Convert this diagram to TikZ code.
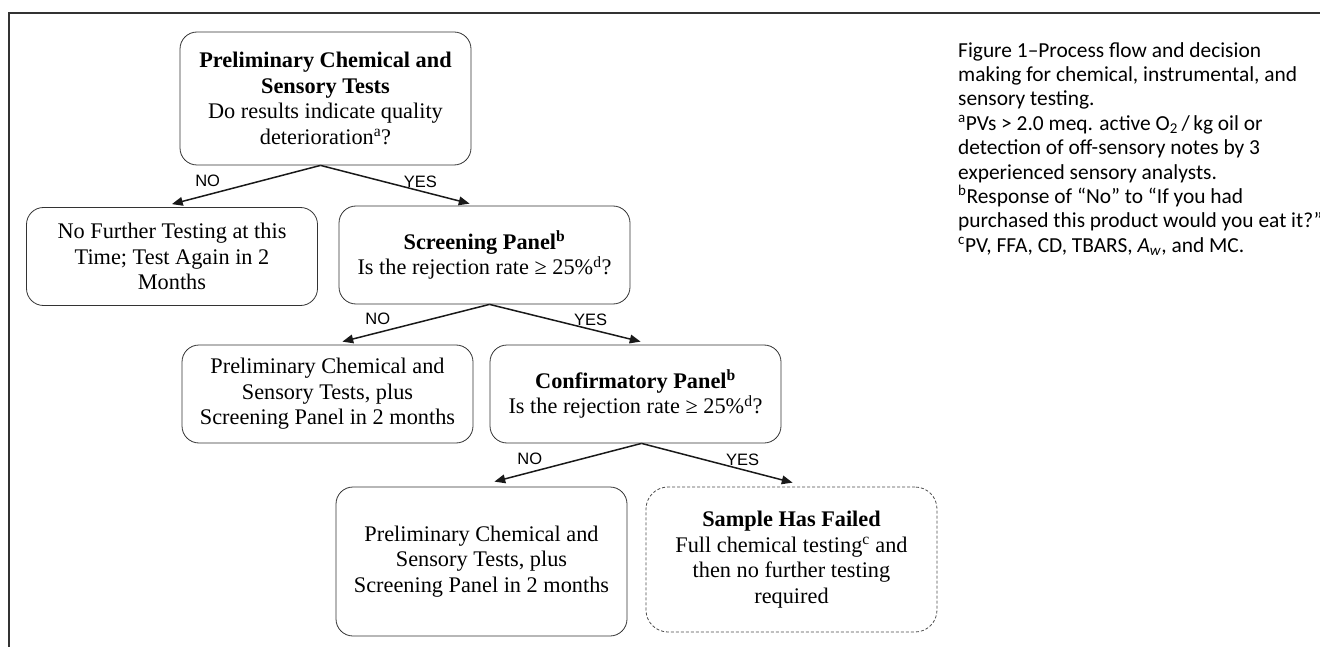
\documentclass[tikz,border=0pt]{standalone}
\usepackage{fontspec}
\setmainfont{Liberation Serif}
\newfontfamily\capfont{Carlito}
\newfontfamily\labfont{Liberation Sans}
\usetikzlibrary{arrows}
\tikzset{
  decision/.style={draw=black!80, line width=0.8pt, rounded corners=17pt,
    minimum width=291pt, minimum height=98pt, align=center, inner sep=2pt,
    font=\fontsize{22.3}{25.5}\selectfont},
  failbox/.style={decision, draw=black!70, dash pattern=on 3pt off 2pt, rounded corners=22pt},
  branch/.style={->, >=triangle 45, line width=1.5pt, draw=black!90},
  lab/.style={inner sep=1pt, font=\labfont\fontsize{16.5}{18}\selectfont},
  nolab/.style={lab, pos=0.76, above=6pt},
  yeslab/.style={lab, pos=0.67, above=2pt}
}
\begin{document}
\begin{tikzpicture}[x=1pt, y=-1pt]
    \useasboundingbox (0,0) rectangle (1320,647);
    \draw[line width=1.3pt, black!80] (9,647) -- (9,13) -- (1320,13);

    \node[decision, minimum height=133pt] (prelim) at (325.5,98.5)
      {\textbf{Preliminary Chemical and}\\\textbf{Sensory Tests}\\Do results indicate quality\\deterioration\textsuperscript{a}?};
    \node[decision] (nofurther) at (172,256.5)
      {No Further Testing at this\\Time; Test Again in 2\\Months};
    \node[decision] (screen) at (484.5,255)
      {\textbf{Screening Panel\textsuperscript{b}}\\Is the rejection rate ≥ 25\%\textsuperscript{d}?};
    \node[decision] (retest1) at (327.5,394)
      {Preliminary Chemical and\\Sensory Tests, plus\\Screening Panel in 2 months};
    \node[decision] (confirm) at (635.5,394)
      {\textbf{Confirmatory Panel\textsuperscript{b}}\\Is the rejection rate ≥ 25\%\textsuperscript{d}?};
    \node[decision, minimum height=149pt] (retest2) at (481.5,561.5)
      {Preliminary Chemical and\\Sensory Tests, plus\\Screening Panel in 2 months};
    \node[failbox, minimum height=145pt] (failed) at (791.5,559.5)
      {\textbf{Sample Has Failed}\\Full chemical testing\textsuperscript{c} and\\then no further testing\\required};

    \draw[branch] ([xshift=-5pt]prelim.south) -- node[nolab] {NO} ([yshift=3pt]nofurther.north);
    \draw[branch] ([xshift=-5pt]prelim.south) -- node[yeslab] {YES} ([xshift=-15pt,yshift=2pt]screen.north);
    \draw[branch] ([xshift=5pt]screen.south) -- node[nolab] {NO} ([xshift=15pt,yshift=3pt]retest1.north);
    \draw[branch] ([xshift=5pt]screen.south) -- node[yeslab] {YES} ([xshift=5pt,yshift=3pt]confirm.north);
    \draw[branch] ([xshift=6pt]confirm.south) -- node[nolab] {NO} ([xshift=13pt,yshift=5pt]retest2.north);
    \draw[branch] ([xshift=6pt]confirm.south) -- node[yeslab] {YES} ([xshift=1pt,yshift=4pt]failed.north);

    \node[anchor=north west, inner sep=0pt, align=left,
      font=\capfont\fontsize{21.4}{24.4}\selectfont] (caption) at (958,42)
      {Figure 1–Process flow and decision\\
       making for chemical, instrumental, and\\
       sensory testing.\\
       \textsuperscript{a}PVs > 2.0 meq. active O\textsubscript{2}\,/\,kg oil or\\
       detection of off-sensory notes by 3\\
       experienced sensory analysts.\\
       \textsuperscript{b}Response of “No” to “If you had\\
       purchased this product would you eat it?”\\
       \textsuperscript{c}PV, FFA, CD, TBARS, \textit{A}\textsubscript{\textit{w}}, and MC.};
  \end{tikzpicture}
\end{document}
